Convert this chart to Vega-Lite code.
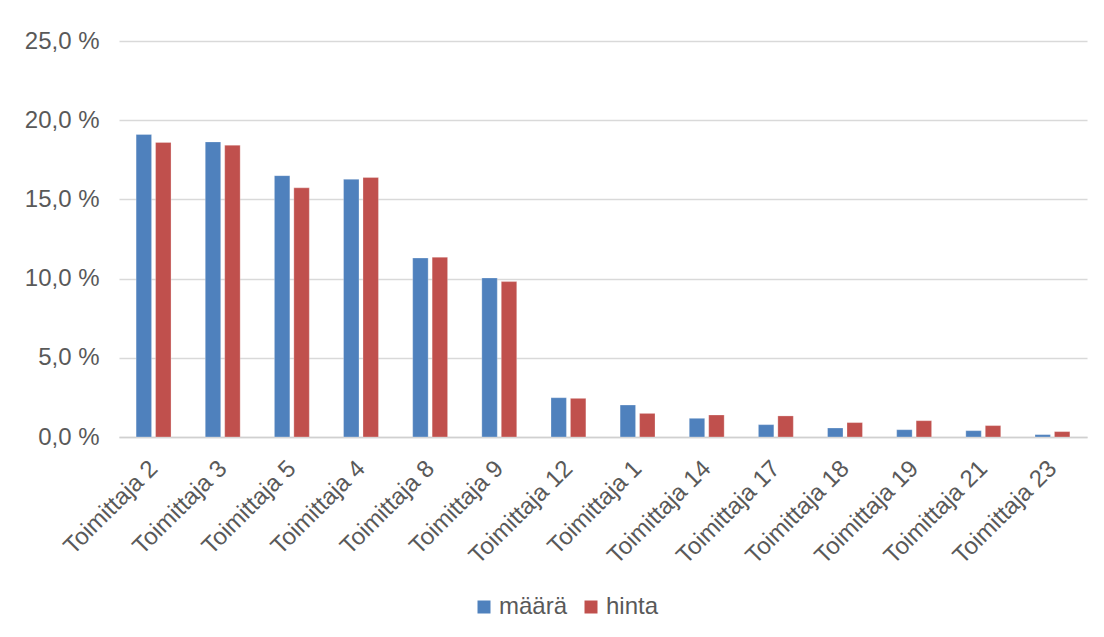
{
  "$schema": "https://vega.github.io/schema/vega-lite/v6.json",
  "width": 968,
  "height": 396,
  "autosize": {"type": "none"},
  "padding": {"left": 119, "top": 41, "right": 17, "bottom": 200},
  "background": "#ffffff",
  "config": {
    "view": {"stroke": null},
    "font": "Liberation Sans",
    "axis": {"labelFont": "Liberation Sans", "labelColor": "#595959", "labelFontSize": 24},
    "legend": {"labelFont": "Liberation Sans", "labelColor": "#595959", "labelFontSize": 24}
  },
  "data": {
    "values": [
      {"toimittaja": "Toimittaja 2", "sarja": "määrä", "osuus": 19.1},
      {"toimittaja": "Toimittaja 2", "sarja": "hinta", "osuus": 18.6},
      {"toimittaja": "Toimittaja 3", "sarja": "määrä", "osuus": 18.63},
      {"toimittaja": "Toimittaja 3", "sarja": "hinta", "osuus": 18.42},
      {"toimittaja": "Toimittaja 5", "sarja": "määrä", "osuus": 16.5},
      {"toimittaja": "Toimittaja 5", "sarja": "hinta", "osuus": 15.73},
      {"toimittaja": "Toimittaja 4", "sarja": "määrä", "osuus": 16.27},
      {"toimittaja": "Toimittaja 4", "sarja": "hinta", "osuus": 16.38},
      {"toimittaja": "Toimittaja 8", "sarja": "määrä", "osuus": 11.3},
      {"toimittaja": "Toimittaja 8", "sarja": "hinta", "osuus": 11.35},
      {"toimittaja": "Toimittaja 9", "sarja": "määrä", "osuus": 10.04},
      {"toimittaja": "Toimittaja 9", "sarja": "hinta", "osuus": 9.81},
      {"toimittaja": "Toimittaja 12", "sarja": "määrä", "osuus": 2.48},
      {"toimittaja": "Toimittaja 12", "sarja": "hinta", "osuus": 2.44},
      {"toimittaja": "Toimittaja 1", "sarja": "määrä", "osuus": 2.02},
      {"toimittaja": "Toimittaja 1", "sarja": "hinta", "osuus": 1.49},
      {"toimittaja": "Toimittaja 14", "sarja": "määrä", "osuus": 1.18},
      {"toimittaja": "Toimittaja 14", "sarja": "hinta", "osuus": 1.39},
      {"toimittaja": "Toimittaja 17", "sarja": "määrä", "osuus": 0.78},
      {"toimittaja": "Toimittaja 17", "sarja": "hinta", "osuus": 1.33},
      {"toimittaja": "Toimittaja 18", "sarja": "määrä", "osuus": 0.57},
      {"toimittaja": "Toimittaja 18", "sarja": "hinta", "osuus": 0.91},
      {"toimittaja": "Toimittaja 19", "sarja": "määrä", "osuus": 0.46},
      {"toimittaja": "Toimittaja 19", "sarja": "hinta", "osuus": 1.03},
      {"toimittaja": "Toimittaja 21", "sarja": "määrä", "osuus": 0.4},
      {"toimittaja": "Toimittaja 21", "sarja": "hinta", "osuus": 0.72},
      {"toimittaja": "Toimittaja 23", "sarja": "määrä", "osuus": 0.15},
      {"toimittaja": "Toimittaja 23", "sarja": "hinta", "osuus": 0.34}
    ]
  },
  "mark": {"type": "bar", "stroke": "#ffffff", "strokeOpacity": 0.35, "strokeWidth": 0.8},
  "encoding": {
    "x": {
      "field": "toimittaja",
      "type": "nominal",
      "sort": null,
      "title": null,
      "scale": {"paddingInner": 0.495, "paddingOuter": 0.2475},
      "axis": {
        "labelAngle": -45,
        "ticks": false,
        "labelPadding": 19,
        "labelOffset": -8,
        "domainColor": "#d0d0d0",
        "domainWidth": 1.5,
        "grid": false
      }
    },
    "xOffset": {
      "field": "sarja",
      "type": "nominal",
      "sort": ["määrä", "hinta"],
      "scale": {"paddingInner": 0.205, "paddingOuter": 0}
    },
    "y": {
      "field": "osuus",
      "type": "quantitative",
      "title": null,
      "scale": {"domain": [0, 25], "nice": false},
      "axis": {
        "values": [0, 5, 10, 15, 20, 25],
        "labelExpr": "replace(format(datum.value, '.1f'), '.', ',') + '\u00a0%'",
        "domain": false,
        "ticks": false,
        "labelPadding": 20,
        "gridColor": "#d9d9d9",
        "gridWidth": 1.3
      }
    },
    "color": {
      "field": "sarja",
      "type": "nominal",
      "title": null,
      "scale": {"domain": ["määrä", "hinta"], "range": ["#4f81bd", "#c0504d"]},
      "legend": {
        "orient": "none",
        "direction": "horizontal",
        "legendX": 353,
        "legendY": 554,
        "symbolType": "square",
        "symbolSize": 169,
        "symbolStrokeWidth": 0,
        "labelOffset": 3,
        "columnPadding": 11
      }
    }
  }
}
